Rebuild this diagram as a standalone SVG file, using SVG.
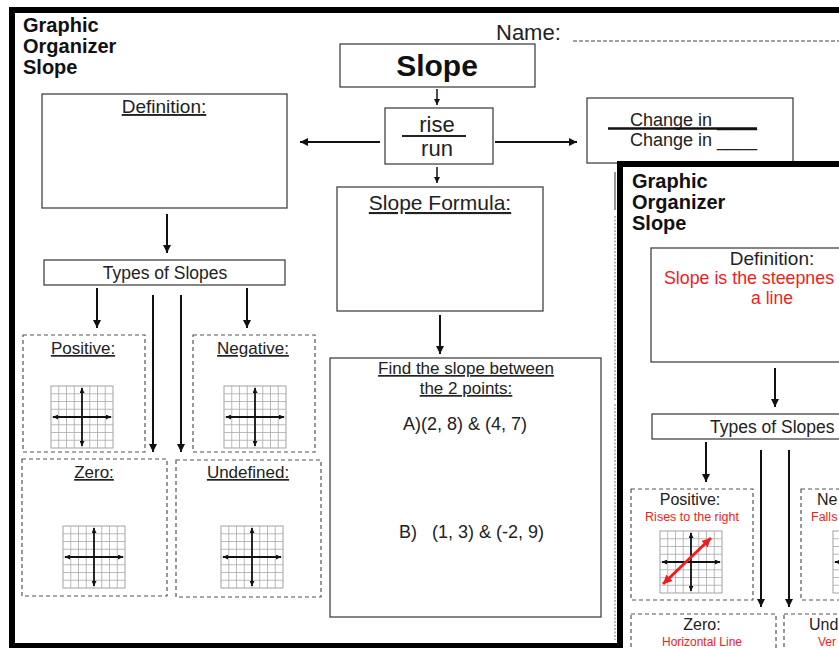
<svg xmlns="http://www.w3.org/2000/svg" width="839" height="648" viewBox="0 0 839 648">
<style>
text{font-family:"Liberation Sans",Arial,sans-serif;fill:#222}
.ttl{font-weight:bold;font-size:20px;fill:#111}
.box{fill:#fff;stroke:#444;stroke-width:1.3}
.dash{fill:#fff;stroke:#555;stroke-width:1.2;stroke-dasharray:4 3}
.lbl{font-size:18px;text-anchor:middle}
.u{text-decoration:underline}
.red{fill:#f21c1c}
.conn line{stroke:#111;stroke-width:2;marker-end:url(#ah)}
.conn line.s{stroke-width:1.5;marker-end:url(#ahs)}
</style>
<defs>
<marker id="ah" viewBox="0 0 10 10" refX="10" refY="5" markerWidth="8" markerHeight="8" markerUnits="userSpaceOnUse" orient="auto-start-reverse"><path d="M0,0 L10,5 L0,10 z" fill="#111"/></marker>
<marker id="ahs" viewBox="0 0 10 10" refX="10" refY="5" markerWidth="6" markerHeight="6" markerUnits="userSpaceOnUse" orient="auto-start-reverse"><path d="M0,0 L10,5 L0,10 z" fill="#111"/></marker>
<marker id="gh" viewBox="0 0 10 10" refX="10" refY="5" markerWidth="5" markerHeight="5" markerUnits="userSpaceOnUse" orient="auto-start-reverse"><path d="M0,0 L10,5 L0,10 z" fill="#111"/></marker>
<marker id="rh" viewBox="0 0 10 10" refX="10" refY="5" markerWidth="9" markerHeight="9" markerUnits="userSpaceOnUse" orient="auto-start-reverse"><path d="M0,0 L10,5 L0,10 z" fill="#f21c1c"/></marker>
<g id="grid">
<rect width="62" height="62" fill="#fff" stroke="#999" stroke-width="0.9"/>
<path d="M7.75,0V62M15.5,0V62M23.25,0V62M31,0V62M38.75,0V62M46.5,0V62M54.25,0V62M0,7.75H62M0,15.5H62M0,23.25H62M0,31H62M0,38.75H62M0,46.5H62M0,54.25H62" stroke="#aaa" stroke-width="0.8" fill="none"/>
<line x1="31" y1="2" x2="31" y2="60" stroke="#111" stroke-width="1.8" marker-start="url(#gh)" marker-end="url(#gh)"/>
<line x1="2" y1="31" x2="60" y2="31" stroke="#111" stroke-width="1.8" marker-start="url(#gh)" marker-end="url(#gh)"/>
</g>
</defs>
<rect width="839" height="648" fill="#fff"/>

<!-- back page -->
<g id="back-page">
<rect x="12" y="10" width="900" height="636" fill="#fff" stroke="#000" stroke-width="6"/>
<text class="ttl" x="23" y="32">Graphic</text>
<text class="ttl" x="23" y="53">Organizer</text>
<text class="ttl" x="23" y="74">Slope</text>
<text x="496" y="40" style="font-size:22px">Name:</text>
<line x1="573" y1="41" x2="839" y2="41" stroke="#444" stroke-width="1" stroke-dasharray="4 2"/>
<line x1="615" y1="172" x2="615" y2="210" stroke="#555" stroke-width="1.2"/>
<line x1="615" y1="216" x2="615" y2="401" stroke="#777" stroke-width="1" stroke-dasharray="2 1.5"/>
<line x1="615" y1="404" x2="615" y2="640" stroke="#777" stroke-width="1" stroke-dasharray="2 1.5"/>
</g>

<g id="node-slope">
<rect class="box" x="340" y="44" width="195" height="43"/>
<text x="437" y="76" style="font-size:30px;font-weight:bold;text-anchor:middle;fill:#111">Slope</text>
</g>

<g id="node-riserun">
<rect class="box" x="385" y="108" width="108" height="56"/>
<text class="lbl" x="437" y="132" style="font-size:22px">rise</text>
<line x1="402" y1="136" x2="466" y2="136" stroke="#222" stroke-width="2"/>
<text class="lbl" x="437" y="156" style="font-size:22px">run</text>
</g>

<g id="node-change">
<rect class="box" x="587" y="98" width="206" height="65"/>
<text x="630" y="126" style="font-size:18px">Change in ____</text>
<line x1="608" y1="128.5" x2="757" y2="128.5" stroke="#111" stroke-width="2.5"/>
<text x="630" y="146" style="font-size:18px">Change in ____</text>
</g>

<g id="node-definition">
<rect class="box" x="42" y="94" width="245" height="114"/>
<text class="lbl u" x="164" y="113" style="font-size:19px">Definition:</text>
</g>

<g id="node-types">
<rect class="box" x="44" y="260" width="241" height="25"/>
<text class="lbl" x="165" y="279" style="font-size:17.5px">Types of Slopes</text>
</g>

<g id="node-positive">
<rect class="dash" x="23" y="335" width="122" height="117"/>
<text class="lbl u" x="83" y="354" style="font-size:17px">Positive:</text>
<use href="#grid" x="51" y="386"/>
</g>

<g id="node-negative">
<rect class="dash" x="193" y="335" width="122" height="117"/>
<text class="lbl u" x="253" y="354" style="font-size:17px">Negative:</text>
<use href="#grid" x="224" y="386"/>
</g>

<g id="node-zero">
<rect class="dash" x="22" y="459" width="145" height="137"/>
<text class="lbl u" x="94" y="478" style="font-size:17px">Zero:</text>
<use href="#grid" x="63" y="526"/>
</g>

<g id="node-undefined">
<rect class="dash" x="176" y="460" width="145" height="137"/>
<text class="lbl u" x="248" y="478" style="font-size:17px">Undefined:</text>
<use href="#grid" x="221" y="526"/>
</g>

<g id="node-formula">
<rect class="box" x="337" y="187" width="206" height="124"/>
<text class="lbl u" x="440" y="210" style="font-size:21px">Slope Formula:</text>
</g>

<g id="node-find">
<rect class="box" x="330" y="358" width="271" height="259"/>
<text class="lbl u" x="466" y="374" style="font-size:17px">Find the slope between</text>
<text class="lbl u" x="466" y="394" style="font-size:17px">the 2 points:</text>
<text class="lbl" x="465" y="430" style="font-size:18px">A)(2, 8) &amp; (4, 7)</text>
<text x="399" y="538" style="font-size:18px" xml:space="preserve">B)   (1, 3) &amp; (-2, 9)</text>
</g>

<g id="connectors" class="conn">
<line class="s" x1="437" y1="89" x2="437" y2="105"/>
<line class="s" x1="437" y1="167" x2="437" y2="183"/>
<line x1="380" y1="142" x2="300" y2="142"/>
<line x1="495" y1="142" x2="577" y2="142"/>
<line x1="440" y1="315" x2="440" y2="354"/>
<line x1="167" y1="214" x2="167" y2="253"/>
<line x1="97" y1="288" x2="97" y2="328"/>
<line x1="247" y1="288" x2="247" y2="328"/>
<line x1="153" y1="295" x2="153" y2="452"/>
<line x1="181" y1="295" x2="181" y2="452"/>
</g>

<!-- front page -->
<g id="front-page">
<rect x="620" y="164" width="400" height="600" fill="#fff" stroke="#000" stroke-width="6"/>
<text class="ttl" x="632" y="188">Graphic</text>
<text class="ttl" x="632" y="209">Organizer</text>
<text class="ttl" x="632" y="230">Slope</text>
</g>

<g id="front-definition">
<rect class="box" x="651" y="248" width="260" height="114"/>
<text class="lbl" x="772" y="265" style="font-size:19px">Definition:</text>
<text class="red" x="664" y="284" style="font-size:17.8px">Slope is the steepnes</text>
<text class="lbl red" x="772" y="304" style="font-size:17.5px">a line</text>
</g>

<g id="front-types">
<rect class="box" x="652" y="414" width="260" height="25"/>
<text x="710" y="433" style="font-size:17.5px">Types of Slopes</text>
</g>

<g id="front-positive">
<rect class="dash" x="631" y="489" width="122" height="111"/>
<text class="lbl" x="690" y="505" style="font-size:16px">Positive:</text>
<text class="lbl red" x="692" y="521" style="font-size:12.5px">Rises to the right</text>
<use href="#grid" x="660" y="531"/>
<line x1="663" y1="584" x2="711" y2="538" stroke="#f21c1c" stroke-width="3" marker-start="url(#rh)" marker-end="url(#rh)"/>
</g>

<g id="front-negative">
<rect class="dash" x="801" y="489" width="122" height="111"/>
<text x="817" y="505" style="font-size:16px">Ne</text>
<text class="red" x="811" y="521" style="font-size:12.5px">Falls</text>
<use href="#grid" x="833" y="531"/>
</g>

<g id="front-zero">
<rect class="dash" x="631" y="614" width="145" height="120"/>
<text class="lbl" x="702" y="630" style="font-size:16px">Zero:</text>
<text class="lbl red" x="702" y="646" style="font-size:12px">Horizontal Line</text>
</g>

<g id="front-undefined">
<rect class="dash" x="784" y="614" width="145" height="120"/>
<text x="809" y="630" style="font-size:16px">Und</text>
<text class="red" x="818" y="646" style="font-size:12px">Ver</text>
</g>

<g id="front-connectors" class="conn">
<line x1="775" y1="368" x2="775" y2="407"/>
<line x1="706" y1="442" x2="706" y2="482"/>
<line x1="761" y1="450" x2="761" y2="607"/>
<line x1="789" y1="450" x2="789" y2="607"/>
</g>
</svg>
